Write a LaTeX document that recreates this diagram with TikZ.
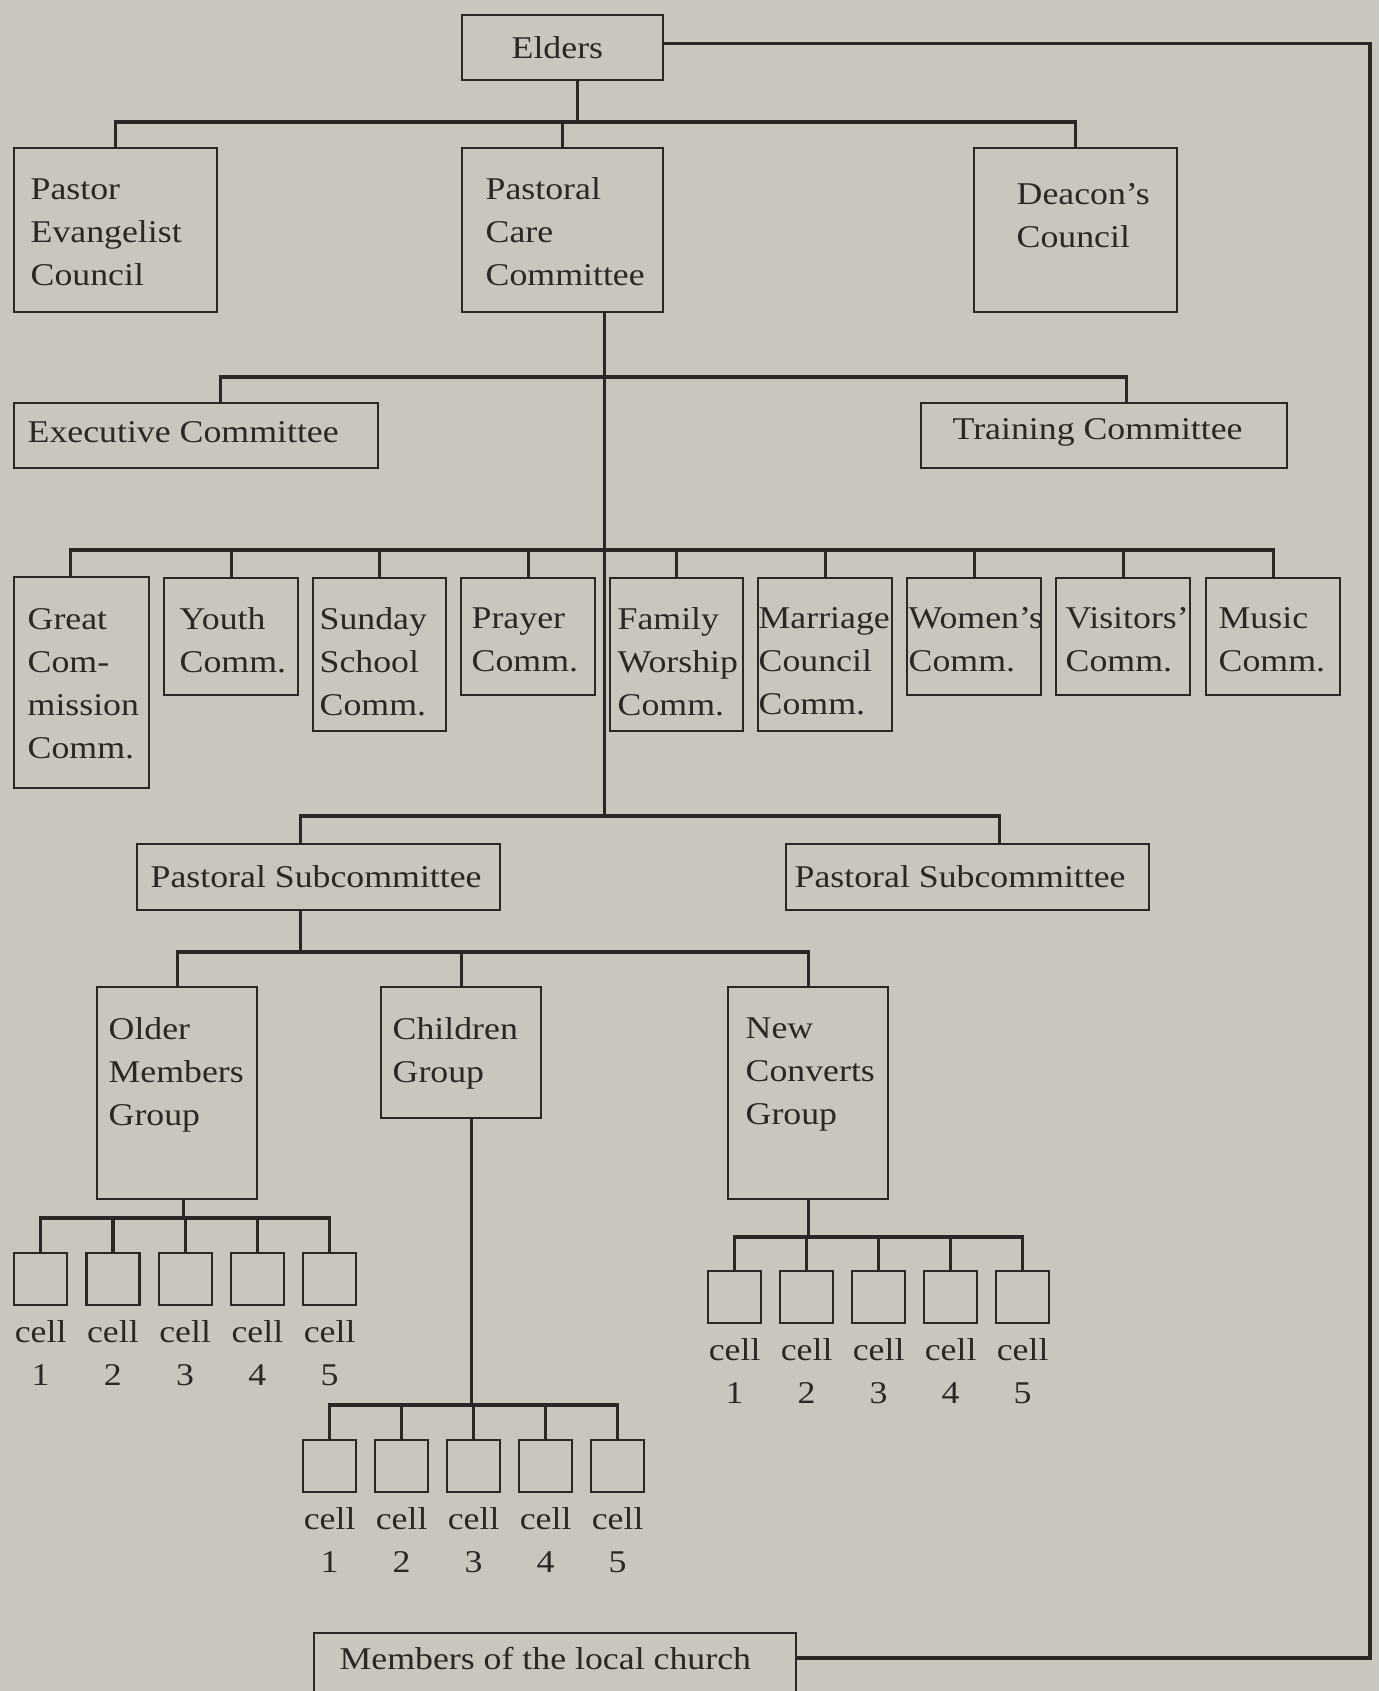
\documentclass[tikz,border=0pt]{standalone}
\usepackage{fontspec}
\setmainfont{Liberation Serif}[FakeStretch=1.13]
\usetikzlibrary{positioning}
\definecolor{paper}{HTML}{C9C6BE}
\definecolor{ink}{HTML}{2B2724}
\newcommand{\pxl}{0.3pt}
\tikzset{
	box/.style={draw=ink, line width=0.7pt, anchor=north west, inner sep=0pt},
	txt/.style={anchor=north west, inner sep=0pt, align=left, text=ink, font=\fontsize{9.5}{12.9}\selectfont},
	link/.style={draw=ink, line width=1pt},
	cellbox/.style={box, minimum width=53*\pxl, minimum height=52*\pxl},
	celltxt/.style={txt, anchor=north, align=center}
}
\begin{document}
\begin{tikzpicture}[x=0.3pt, y=-0.3pt]
	\fill[paper] (0,0) rectangle (1379,1691);
	\useasboundingbox (0,0) rectangle (1379,1691);
	
	% boxes
	\node[box, minimum width=201*\pxl, minimum height=65*\pxl] (elders) at (461,14) {};
	\node[box, minimum width=203*\pxl, minimum height=164*\pxl] (pastor) at (13,147) {};
	\node[box, minimum width=201*\pxl, minimum height=164*\pxl] (pcc) at (461,147) {};
	\node[box, minimum width=203*\pxl, minimum height=164*\pxl] (deacon) at (973,147) {};
	\node[box, minimum width=364*\pxl, minimum height=65*\pxl] (exec) at (13,402) {};
	\node[box, minimum width=366*\pxl, minimum height=65*\pxl] (training) at (920,402) {};
	\node[box, minimum width=135*\pxl, minimum height=211*\pxl] (great) at (13,576) {};
	\node[box, minimum width=134*\pxl, minimum height=117*\pxl] (youth) at (163,577) {};
	\node[box, minimum width=133*\pxl, minimum height=153*\pxl] (sunday) at (312,577) {};
	\node[box, minimum width=134*\pxl, minimum height=117*\pxl] (prayer) at (460,577) {};
	\node[box, minimum width=133*\pxl, minimum height=153*\pxl] (family) at (609,577) {};
	\node[box, minimum width=134*\pxl, minimum height=153*\pxl] (marriage) at (757,577) {};
	\node[box, minimum width=134*\pxl, minimum height=117*\pxl] (women) at (906,577) {};
	\node[box, minimum width=134*\pxl, minimum height=117*\pxl] (visitors) at (1055,577) {};
	\node[box, minimum width=134*\pxl, minimum height=117*\pxl] (music) at (1205,577) {};
	\node[box, minimum width=363*\pxl, minimum height=66*\pxl] (sub1) at (136,843) {};
	\node[box, minimum width=363*\pxl, minimum height=66*\pxl] (sub2) at (785,843) {};
	\node[box, minimum width=160*\pxl, minimum height=212*\pxl] (older) at (96,986) {};
	\node[box, minimum width=160*\pxl, minimum height=131*\pxl] (children) at (380,986) {};
	\node[box, minimum width=160*\pxl, minimum height=212*\pxl] (converts) at (727,986) {};
	\node[box, minimum width=482*\pxl, minimum height=80*\pxl] (members) at (313,1632) {};
	
	% texts
	\node[txt] (elders-t) at (511,36) {Elders};
	\node[txt] (pastor-t) at (30,178) {Pastor\\Evangelist\\Council};
	\node[txt] (pcc-t) at (485,177) {Pastoral\\Care\\Committee};
	\node[txt] (deacon-t) at (1016,183) {Deacon’s\\Council};
	\node[txt] (exec-t) at (27,421) {Executive Committee};
	\node[txt] (training-t) at (952,418) {Training Committee};
	\node[txt] (great-t) at (27,608) {Great\\Com-\\mission\\Comm.};
	\node[txt] (youth-t) at (179,607) {Youth\\Comm.};
	\node[txt] (sunday-t) at (319,607) {Sunday\\School\\Comm.};
	\node[txt] (prayer-t) at (471,607) {Prayer\\Comm.};
	\node[txt] (family-t) at (617,607) {Family\\Worship\\Comm.};
	\node[txt] (marriage-t) at (758,607) {Marriage\\Council\\Comm.};
	\node[txt] (women-t) at (908,607) {Women’s\\Comm.};
	\node[txt] (visitors-t) at (1065,607) {Visitors’\\Comm.};
	\node[txt] (music-t) at (1218,607) {Music\\Comm.};
	\node[txt] (sub1-t) at (150,865) {Pastoral Subcommittee};
	\node[txt] (sub2-t) at (794,865) {Pastoral Subcommittee};
	\node[txt] (older-t) at (108,1017) {Older\\Members\\Group};
	\node[txt] (children-t) at (392,1017) {Children\\Group};
	\node[txt] (converts-t) at (745,1017) {New\\Converts\\Group};
	\node[txt, anchor=west] (members-t) at (339,1658) {Members of the local church};
	
	% cells
	\foreach \i in {1,...,5} {
		\node[cellbox] (oc\i) at ({13+72.25*(\i-1)},1252) {};
		\node[celltxt] (oc\i-t) at ([shift={(0,14)}]oc\i.south) {cell\\\i};
		\node[cellbox] (cc\i) at ({302+72*(\i-1)},1439) {};
		\node[celltxt] (cc\i-t) at ([shift={(0,14)}]cc\i.south) {cell\\\i};
		\node[cellbox] (nc\i) at ({707+72*(\i-1)},1270) {};
		\node[celltxt] (nc\i-t) at ([shift={(0,14)}]nc\i.south) {cell\\\i};
	}
	
	% elders to councils
	\coordinate (el) at ([shift={(15,0)}]elders.south);
	\draw[link] (el) -- (el |- 0,122);
	\draw[link] (pastor.north) |- (deacon.north |- 0,122) -- (deacon.north);
	\draw[link] (pcc.north) -- (pcc.north |- 0,122);
	
	% pastoral care trunk
	\coordinate (trunk) at ([shift={(41.5,0)}]pcc.south);
	\draw[link] (trunk) -- (trunk |- 0,816);
	\coordinate (ex) at ([shift={(24,0)}]exec.north);
	\coordinate (tr) at ([shift={(22,0)}]training.north);
	\draw[link] (ex) |- (tr |- 0,377) -- (tr);
	\coordinate (gr) at ([shift={(-11.5,0)}]great.north);
	\draw[link] (gr) |- (music.north |- 0,550) -- (music.north);
	\foreach \n in {youth,sunday,prayer,family,marriage,women,visitors}
		\draw[link] (\n.north) -- (\n.north |- 0,550);
	\coordinate (s1) at ([shift={(-18.5,0)}]sub1.north);
	\coordinate (s2) at ([shift={(32,0)}]sub2.north);
	\draw[link] (s1) |- (s2 |- 0,816) -- (s2);
	
	% groups
	\coordinate (s1b) at ([shift={(-18.5,0)}]sub1.south);
	\draw[link] (s1b) -- (s1b |- 0,952);
	\draw[link] (older.north) |- (converts.north |- 0,952) -- (converts.north);
	\draw[link] (children.north) -- (children.north |- 0,952);
	
	% group cells
	\coordinate (ob) at ([shift={(6,0)}]older.south);
	\draw[link] (ob) -- (ob |- 0,1218);
	\draw[link] (oc1.north) |- (oc5.north |- 0,1218) -- (oc5.north);
	\coordinate (cb) at ([shift={(10,0)}]children.south);
	\draw[link] (cb) -- (cb |- 0,1405);
	\draw[link] (cc1.north) |- (cc5.north |- 0,1405) -- (cc5.north);
	\draw[link] (converts.south) -- (converts.south |- 0,1237);
	\draw[link] (nc1.north) |- (nc5.north |- 0,1237) -- (nc5.north);
	\foreach \i in {2,3,4} {
		\draw[link] (oc\i.north) -- (oc\i.north |- 0,1218);
		\draw[link] (cc\i.north) -- (cc\i.north |- 0,1405);
		\draw[link] (nc\i.north) -- (nc\i.north |- 0,1237);
	}
	
	% back to elders
	\coordinate (er) at ([shift={(0,-4.5)}]elders.east);
	\coordinate (rim) at (1370,1658);
	\draw[link] (er) -| (rim) -- (members.east |- rim);
\end{tikzpicture}
\end{document}
